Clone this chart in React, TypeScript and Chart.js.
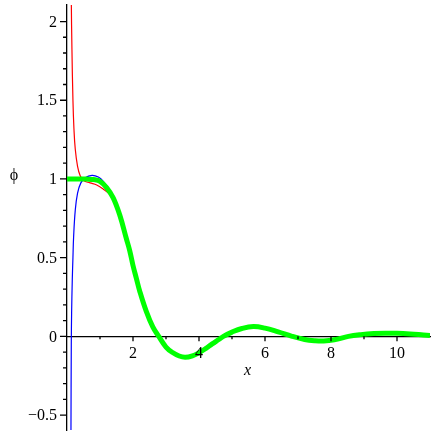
import React, { useEffect, useRef } from "react";
import { Chart, registerables } from "chart.js";

Chart.register(...registerables);

const X_MIN = 0;
const X_MAX = 11;
const Y_MIN = -0.595;
const Y_MAX = 2.105;

const xMajorTicks = [2, 4, 6, 8, 10];
const xTickLabels = ["2", "4", "6", "8", "10"];
const xMinorTicks = [1, 3, 5, 7, 9];
const yMajorTicks = [-0.5, 0, 0.5, 1, 1.5, 2];
const yTickLabels = ["\u22120.5", "0", "0.5", "1", "1.5", "2"];
const yMinorTicks = [
  -0.4, -0.3, -0.2, -0.1, 0.1, 0.2, 0.3, 0.4, 0.6, 0.7, 0.8, 0.9, 1.1, 1.2,
  1.3, 1.4, 1.6, 1.7, 1.8, 1.9,
];

const xTitle = "x";
const yTitle = "\u03D5";

const greenX = [
  0, 0.3, 0.6, 0.8, 1.0, 1.2, 1.4, 1.6, 1.8, 1.9, 2.0, 2.1, 2.2, 2.4, 2.6,
  2.78, 3.0, 3.2, 3.4, 3.58, 3.8, 4.0, 4.2, 4.4, 4.6, 4.74, 5.0, 5.3, 5.65,
  6.0, 6.4, 6.82, 7.2, 7.5, 7.78, 8.1, 8.53, 8.9, 9.3, 9.65, 10.0, 10.4, 10.8,
  11,
];
const greenY = [
  1.0, 1.0, 0.999, 0.996, 0.985, 0.945, 0.88, 0.77, 0.62, 0.545, 0.45, 0.37,
  0.29, 0.16, 0.06, 0, -0.068, -0.103, -0.125, -0.133, -0.124, -0.104, -0.078,
  -0.048, -0.02, 0, 0.027, 0.05, 0.062, 0.052, 0.028, 0, -0.02, -0.028, -0.03,
  -0.022, 0, 0.011, 0.018, 0.02, 0.019, 0.015, 0.009, 0.006,
];

const redX = [
  0.12, 0.13, 0.15, 0.18, 0.21, 0.25, 0.32, 0.4, 0.5, 0.7, 0.9, 1.1, 1.3, 1.5,
  1.6, 1.8, 2.0, 2.2,
];
const redY = [
  2.5, 2.14, 1.82, 1.5, 1.32, 1.19, 1.08, 1.02, 0.99, 0.975, 0.962, 0.935, 0.9,
  0.83, 0.77, 0.62, 0.45, 0.29,
];

const blueX = [
  0.11, 0.12, 0.13, 0.14, 0.16, 0.18, 0.2, 0.25, 0.32, 0.42, 0.55, 0.76, 0.95,
  1.1, 1.3, 1.5, 1.6, 1.8, 2.0, 2.2,
];
const blueY = [
  -1.2, -0.6, -0.05, 0.15, 0.36, 0.5, 0.63, 0.8, 0.91, 0.975, 1.008, 1.023,
  1.012, 0.985, 0.925, 0.84, 0.775, 0.62, 0.45, 0.29,
];

const toPoints = (xs: number[], ys: number[]) =>
  xs.map((x, i) => ({ x, y: ys[i] }));

const FONT = "'Liberation Serif', 'Times New Roman', serif";

const axisDecor = {
  id: "axisDecor",
  afterDraw(chart: any) {
    const { ctx, scales, chartArea } = chart;
    const xs = scales.x;
    const ys = scales.y;
    const ax = xs.getPixelForValue(0);
    const ay = ys.getPixelForValue(0);
    ctx.save();
    ctx.strokeStyle = "#000";
    ctx.lineWidth = 1.3;
    ctx.beginPath();
    yMajorTicks.forEach((v) => {
      const p = ys.getPixelForValue(v);
      ctx.moveTo(ax - 7, p);
      ctx.lineTo(ax, p);
    });
    yMinorTicks.forEach((v) => {
      const p = ys.getPixelForValue(v);
      ctx.moveTo(ax - 4, p);
      ctx.lineTo(ax, p);
    });
    xMajorTicks.forEach((v) => {
      const p = xs.getPixelForValue(v);
      ctx.moveTo(p, ay);
      ctx.lineTo(p, ay + 5);
    });
    xMinorTicks.forEach((v) => {
      const p = xs.getPixelForValue(v);
      ctx.moveTo(p, ay);
      ctx.lineTo(p, ay + 3);
    });
    ctx.stroke();

    ctx.fillStyle = "#000";
    ctx.font = `16px ${FONT}`;
    ctx.textAlign = "right";
    ctx.textBaseline = "middle";
    yMajorTicks.forEach((v, i) => {
      ctx.fillText(yTickLabels[i], ax - 10, ys.getPixelForValue(v) + 1);
    });
    ctx.textAlign = "center";
    ctx.textBaseline = "top";
    xMajorTicks.forEach((v, i) => {
      ctx.fillText(xTickLabels[i], xs.getPixelForValue(v), ay + 9);
    });

    ctx.textBaseline = "middle";
    ctx.font = `italic 16px ${FONT}`;
    ctx.fillText(xTitle, (chartArea.left + chartArea.right) / 2 - 1, ay + 34);
    ctx.font = `16px ${FONT}`;
    ctx.fillText(yTitle, 14, ys.getPixelForValue(1) - 3);
    ctx.restore();
  },
};

export default function App() {
  const ref = useRef<HTMLCanvasElement | null>(null);

  useEffect(() => {
    if (!ref.current) return;
    const chart = new Chart(ref.current, {
      type: "line",
      data: {
        datasets: [
          {
            data: toPoints(greenX, greenY),
            borderColor: "#00ff00",
            borderWidth: 5,
            pointRadius: 0,
            tension: 0.4,
            fill: false,
          },
          {
            data: toPoints(redX, redY),
            borderColor: "#ff0000",
            borderWidth: 1.2,
            pointRadius: 0,
            tension: 0.4,
            fill: false,
          },
          {
            data: toPoints(blueX, blueY),
            borderColor: "#0000ff",
            borderWidth: 1.2,
            pointRadius: 0,
            tension: 0.4,
            fill: false,
          },
        ],
      },
      options: {
        animation: false,
        responsive: false,
        devicePixelRatio: 1,
        layout: { padding: { left: 67, right: 6, top: 5, bottom: 6 } },
        plugins: {
          legend: { display: false },
          tooltip: { enabled: false },
        },
        scales: {
          x: {
            type: "linear",
            min: X_MIN,
            max: X_MAX,
            position: { y: 0 } as any,
            grid: { display: false, drawTicks: false },
            border: { display: true, color: "#000", width: 1.3 },
            ticks: { display: false },
          },
          y: {
            type: "linear",
            min: Y_MIN,
            max: Y_MAX,
            position: { x: 0 } as any,
            grid: { display: false, drawTicks: false },
            border: { display: true, color: "#000", width: 1.3 },
            ticks: { display: false },
          },
        },
      },
      plugins: [axisDecor],
    });
    return () => chart.destroy();
  }, []);

  return (
    <div style={{ position: "fixed", left: 0, top: 0, width: 436, height: 436, background: "#fff" }}>
      <canvas ref={ref} width={436} height={436} style={{ display: "block" }} />
    </div>
  );
}
